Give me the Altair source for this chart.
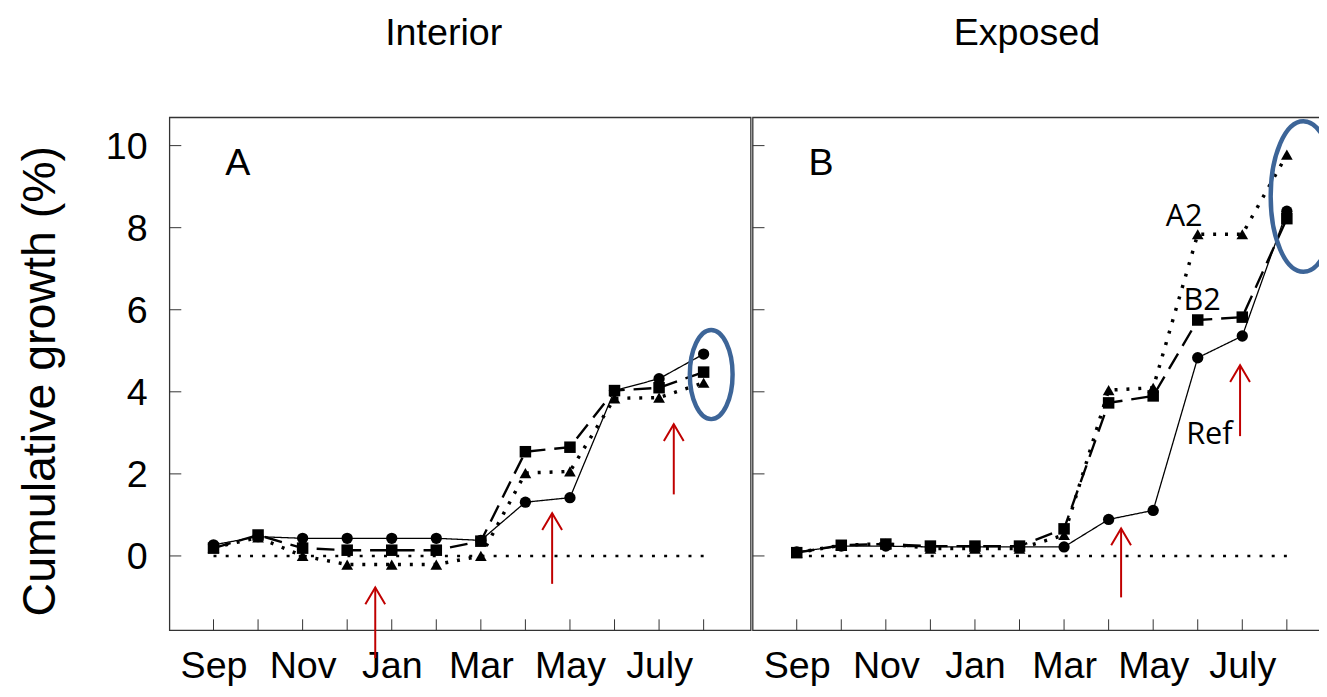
import altair as alt
import pandas as pd

# ---------------- data ----------------
months = ["Sep", "Oct", "Nov", "Dec", "Jan", "Feb", "Mar", "Apr", "May", "Jun", "July", "Aug"]
series_names = ["Ref", "B2", "A2"]

interior_ref = [0.27, 0.47, 0.43, 0.43, 0.43, 0.43, 0.38, 1.31, 1.42, 4.03, 4.32, 4.92]
interior_b2 = [0.19, 0.51, 0.19, 0.14, 0.14, 0.14, 0.36, 2.54, 2.65, 4.03, 4.10, 4.48]
interior_a2 = [0.20, 0.45, 0.00, -0.21, -0.21, -0.21, 0.00, 2.02, 2.06, 3.84, 3.86, 4.22]

exposed_ref = [0.10, 0.24, 0.24, 0.22, 0.22, 0.22, 0.22, 0.89, 1.11, 4.83, 5.36, 8.40]
exposed_b2 = [0.08, 0.26, 0.29, 0.24, 0.24, 0.24, 0.66, 3.73, 3.90, 5.75, 5.82, 8.22]
exposed_a2 = [0.08, 0.26, 0.30, 0.18, 0.18, 0.18, 0.51, 4.04, 4.10, 7.84, 7.84, 9.78]

y_tick_values = [0, 2, 4, 6, 8, 10]
x_label_values = [0, 2, 4, 6, 8, 10]

# red arrows: month position, tip value, tail value
interior_arrow_pos = [3.63, 7.60, 10.33]
interior_arrow_tip = [-0.77, 1.04, 3.21]
interior_arrow_tail = [-2.49, -0.68, 1.50]
exposed_arrow_pos = [7.28, 9.95]
exposed_arrow_tip = [0.67, 4.65]
exposed_arrow_tail = [-1.01, 2.92]

# blue rings around the final values
interior_ring_pos = [11.17]
interior_ring_val = [4.42]
exposed_ring_pos = [11.37]
exposed_ring_val = [8.76]

# series labels in panel B
exposed_label_text = ["A2", "B2", "Ref"]
exposed_label_pos = [8.28, 8.68, 8.74]
exposed_label_val = [8.04, 5.99, 2.73]

# ---------------- styling ----------------
W, H = 587, 518
XDOM = [-0.99, 12.055]
YDOM = [-1.81, 10.69]
RED = "#c00000"
BLUE = "#3d6598"
FRAME = "#333333"
FONT = "Liberation Sans"

label_expr = "[" + ",".join("'%s'" % m for m in months) + "][datum.value]"


def long_table(ref, b2, a2):
    rows = []
    for name, vals in (("A2", a2), ("Ref", ref), ("B2", b2)):
        for i, v in enumerate(vals):
            rows.append({"m": i, "v": v, "series": name})
    return pd.DataFrame(rows)


def ring_path(r):
    return "M -%s 0 A %s 1 0 1 0 %s 0 A %s 1 0 1 0 -%s 0 Z" % (r, r, r, r, r)


def panel(title, letter, ref, b2, a2, arr_pos, arr_tip, arr_tail,
          ring_pos, ring_val, ring_ratio, ring_half_height, first, labels=None):
    xs = alt.Scale(domain=XDOM, nice=False, zero=False)
    ys = alt.Scale(domain=YDOM, nice=False, zero=False)
    xaxis = alt.Axis(values=x_label_values, labelExpr=label_expr, title=None,
                     ticks=False, tickSize=0, domain=False, grid=False,
                     labelFontSize=38, labelPadding=48, labelBaseline="alphabetic",
                     labelColor="black", labelOverlap=False, labelFlush=False)
    if first:
        yaxis = alt.Axis(values=y_tick_values, title="Cumulative growth (%)",
                         titleFontSize=47, titleFontWeight="normal", titleColor="black",
                         titleAngle=270, titleX=-116.5, titleY=266,
                         titleAlign="center", titleBaseline="alphabetic",
                         ticks=False, tickSize=0, domain=False, grid=False,
                         labelFontSize=38, labelPadding=22.5, labelColor="black",
                         labelBaseline="middle", labelOffset=2,
                         labelOverlap=False, labelFlush=False)
    else:
        yaxis = None

    def X(f):
        return alt.X(f, type="quantitative", scale=xs, axis=xaxis)

    def Y(f):
        return alt.Y(f, type="quantitative", scale=ys, axis=yaxis)

    layers = []
    # inside ticks
    layers.append(alt.Chart(pd.DataFrame({"t": y_tick_values})).mark_rule(
        color=FRAME, strokeWidth=1).encode(y=Y("t"), x=alt.value(0), x2=alt.value(12)))
    layers.append(alt.Chart(pd.DataFrame({"m": list(range(len(months)))})).mark_rule(
        color=FRAME, strokeWidth=1).encode(x=X("m"), y=alt.value(H), y2=alt.value(H - 11)))
    # zero reference line
    layers.append(alt.Chart(pd.DataFrame({"m": [0, len(months) - 1], "v": [0, 0]})).mark_line(
        color="black", strokeDash=[3, 9.3], strokeWidth=2.5).encode(x=X("m"), y=Y("v")))
    df = long_table(ref, b2, a2)
    layers.append(alt.Chart(df).mark_line(color="black").encode(
        x=X("m"), y=Y("v"), detail="series:N",
        strokeDash=alt.StrokeDash("series:N", scale=alt.Scale(
            domain=series_names, range=[[1, 0], [18, 9], [3, 9]]), legend=None),
        strokeWidth=alt.StrokeWidth("series:N", scale=alt.Scale(
            domain=series_names, range=[1.3, 3.5, 3]), legend=None)))
    layers.append(alt.Chart(df).mark_point(filled=True, opacity=1, color="black").encode(
        x=X("m"), y=Y("v"),
        shape=alt.Shape("series:N", scale=alt.Scale(
            domain=series_names, range=["circle", "square", "triangle-up"]), legend=None),
        size=alt.Size("series:N", scale=alt.Scale(
            domain=series_names, range=[130, 140, 190]), legend=None)))
    # red arrows
    arr = pd.DataFrame({"pos": arr_pos, "tip": arr_tip, "tail": arr_tail})
    layers.append(alt.Chart(arr).mark_rule(color=RED, strokeWidth=2).encode(
        x=X("pos"), y=Y("tip"), y2="tail"))
    layers.append(alt.Chart(arr).mark_point(
        shape="M -1 1.7 L 0 0 L 1 1.7", size=400, filled=False, opacity=1,
        strokeWidth=2, color=RED).encode(x=X("pos"), y=Y("tip")))
    # blue ring
    ring = pd.DataFrame({"pos": ring_pos, "val": ring_val})
    layers.append(alt.Chart(ring).mark_point(
        shape=ring_path(ring_ratio), size=(2 * ring_half_height) ** 2, filled=False,
        opacity=1, strokeWidth=4.5, color=BLUE).encode(x=X("pos"), y=Y("val")))
    # panel letter and title
    layers.append(alt.Chart(pd.DataFrame({"label": [letter]})).mark_text(
        fontSize=38, align="center", baseline="alphabetic", color="black").encode(
        x=alt.value(69), y=alt.value(58), text="label:N"))
    layers.append(alt.Chart(pd.DataFrame({"label": [title]})).mark_text(
        fontSize=38, align="center", baseline="alphabetic", color="black").encode(
        x=alt.value(277), y=alt.value(-73), text="label:N"))
    if labels is not None:
        lab = pd.DataFrame({"label": labels[0], "pos": labels[1], "val": labels[2]})
        layers.append(alt.Chart(lab).mark_text(
            font="Open Sans", fontSize=31, align="left", baseline="alphabetic",
            color="black").encode(x=X("pos"), y=Y("val"), text="label:N"))
    return alt.layer(*layers).properties(width=W, height=H)


pA = panel("Interior", "A", interior_ref, interior_b2, interior_a2,
           interior_arrow_pos, interior_arrow_tip, interior_arrow_tail,
           interior_ring_pos, interior_ring_val, 0.48, 45, True)
pB = panel("Exposed", "B", exposed_ref, exposed_b2, exposed_a2,
           exposed_arrow_pos, exposed_arrow_tip, exposed_arrow_tail,
           exposed_ring_pos, exposed_ring_val, 0.434, 76, False,
           labels=(exposed_label_text, exposed_label_pos, exposed_label_val))

chart = alt.hconcat(pA, pB, spacing=-1).properties(
    padding={"left": 7, "top": 3, "right": -27, "bottom": 0}
).configure(font=FONT).configure_view(stroke=FRAME, strokeWidth=1.3)

chart.save("out.html", embed_options={"renderer": "svg", "actions": False})
